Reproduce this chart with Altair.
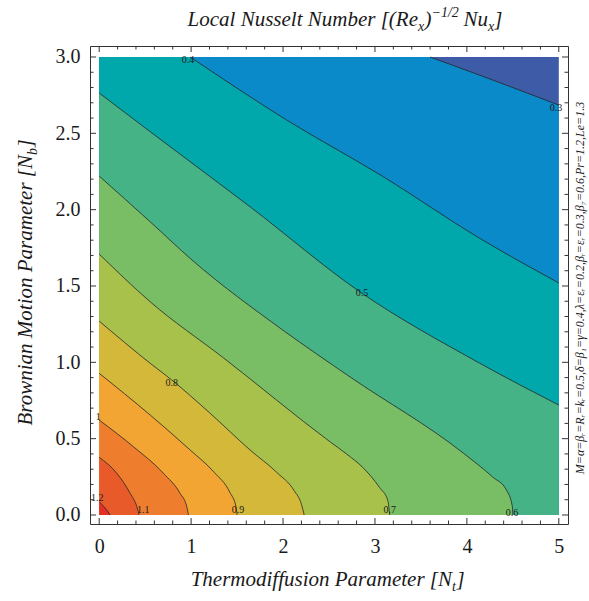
import altair as alt
import pandas as pd

# ---------------- data ----------------
NT_RANGE = [0.0, 5.0]   # Thermodiffusion parameter Nt
NB_RANGE = [0.0, 3.0]   # Brownian motion parameter Nb

LEVELS = [0.3, 0.4, 0.5, 0.6, 0.7, 0.8, 0.9, 1.0, 1.1, 1.2]

C03_X = [3.60, 4.30, 5.00]
C03_Y = [3.00, 2.845, 2.685]
C04_X = [0.99, 2.04, 3.09, 4.14, 5.00]
C04_Y = [3.00, 2.587, 2.216, 1.812, 1.52]
C05_X = [0.00, 0.554, 1.641, 2.84, 4.14, 5.00]
C05_Y = [2.764, 2.511, 2.019, 1.46, 0.994, 0.72]
C06_X = [0.00, 0.554, 1.01, 2.00, 2.73, 3.96, 4.28, 4.43, 4.495, 4.50]
C06_Y = [2.22, 1.921, 1.67, 1.21, 0.904, 0.406, 0.249, 0.164, 0.054, 0.0]
C07_X = [0.00, 0.554, 1.35, 2.51, 2.69, 2.87, 3.05, 3.14, 3.16]
C07_Y = [1.709, 1.397, 1.03, 0.48, 0.40, 0.31, 0.18, 0.095, 0.0]
C08_X = [0.00, 0.554, 0.79, 1.20, 1.641, 1.93, 2.12, 2.20, 2.23]
C08_Y = [1.27, 0.994, 0.884, 0.67, 0.426, 0.28, 0.16, 0.07, 0.0]
C09_X = [0.00, 0.554, 0.989, 1.25, 1.42, 1.49, 1.50]
C09_Y = [0.928, 0.655, 0.426, 0.28, 0.15, 0.05, 0.0]
C10_X = [0.00, 0.373, 0.699, 0.880, 0.953, 0.971]
C10_Y = [0.622, 0.447, 0.273, 0.142, 0.054, 0.0]
C11_X = [0.00, 0.192, 0.337, 0.41, 0.435]
C11_Y = [0.378, 0.273, 0.142, 0.054, 0.0]
C12_X = [0.00, 0.065, 0.12]
C12_Y = [0.087, 0.045, 0.0]

CONTOURS_X = [C03_X, C04_X, C05_X, C06_X, C07_X, C08_X, C09_X, C10_X, C11_X, C12_X]
CONTOURS_Y = [C03_Y, C04_Y, C05_Y, C06_Y, C07_Y, C08_Y, C09_Y, C10_Y, C11_Y, C12_Y]

COLOR_BELOW = "#3D5BA7"
COLORS_ABOVE = ["#0A8AC8", "#00A7AB", "#45B386", "#79BE64", "#A8C14B",
                "#D4B83A", "#F3A534", "#EE7E2E", "#E95A2A", "#E42F27"]

LABEL_TEXT = ["0.4", "0.3", "0.5", "0.6", "0.7", "0.8", "0.9", "1", "1.1", "1.2"]
LABEL_X = [0.967, 4.97, 2.86, 4.49, 3.16, 0.79, 1.51, -0.01, 0.478, -0.02]
LABEL_Y = [2.98, 2.666, 1.454, 0.013, 0.033, 0.865, 0.033, 0.642, 0.033, 0.111]

X_MAJOR = [0, 1, 2, 3, 4, 5]
X_MINOR = [0.2, 0.4, 0.6, 0.8, 1.2, 1.4, 1.6, 1.8, 2.2, 2.4, 2.6, 2.8,
           3.2, 3.4, 3.6, 3.8, 4.2, 4.4, 4.6, 4.8]
Y_MAJOR = [0.0, 0.5, 1.0, 1.5, 2.0, 2.5, 3.0]
Y_MINOR = [0.1, 0.2, 0.3, 0.4, 0.6, 0.7, 0.8, 0.9, 1.1, 1.2, 1.3, 1.4,
           1.6, 1.7, 1.8, 1.9, 2.1, 2.2, 2.3, 2.4, 2.6, 2.7, 2.8, 2.9]

TITLE_PARTS = ["Local Nusselt Number [(Re", "x", ")", "\u22121/2", "Nu", "x", "]"]
XTITLE_PARTS = ["Thermodiffusion Parameter [N", "t", "]"]
YTITLE_PARTS = ["Brownian Motion Parameter [N", "b", "]"]
SIDE_NOTE = ("M=\u03b1=\u03b2\u1d63=R\u1d63=k\u1d63=0.5,\u03b4=\u03b2\u2081=\u03b3=0.4,"
             "\u03bb=\u03b5\u1d63=0.2,\u03b2\u1d63=\u03b5\u1d63=0.3,\u03b2\u2087=0.6,Pr=1.2,Le=1.3")

# ---------------- layout / style ----------------
W, H = 478, 478
SERIF = "Liberation Serif"
FRAME = "#333333"
TEXTC = "#1a1a1a"
INTERP = "monotone"
SEAM_OVERLAP = 0.012   # tiny overlap (data units) that hides anti-aliasing seams

xs = alt.Scale(domain=[-0.1, 5.1], nice=False, zero=False)
ys = alt.Scale(domain=[-0.059, 3.072], nice=False, zero=False)
x_axis = alt.Axis(values=X_MAJOR, format="d", ticks=False, domain=False, grid=False,
                  labelFont=SERIF, labelFontSize=20, labelColor=TEXTC, labelPadding=12,
                  labelFlush=False, title=None)
y_axis = alt.Axis(values=Y_MAJOR, format=".1f", ticks=False, domain=False, grid=False,
                  labelFont=SERIF, labelFontSize=20, labelColor=TEXTC, labelPadding=10,
                  labelFlush=False, title=None)


def X(f):
    return alt.X(f, type="quantitative", scale=xs, axis=x_axis)


def Y(f):
    return alt.Y(f, type="quantitative", scale=ys, axis=y_axis)


def rect_layer(x0, x1, y0, y1, col):
    df = pd.DataFrame({"x": [x0], "x2": [x1], "y": [y0], "y2": [y1]})
    return alt.Chart(df).mark_rect(color=col).encode(
        x=X("x"), x2="x2:Q", y=Y("y"), y2="y2:Q")


layers = [rect_layer(NT_RANGE[0], NT_RANGE[1], NB_RANGE[0], NB_RANGE[1], COLOR_BELOW)]

for lev, cx, cy, col in zip(LEVELS, CONTOURS_X, CONTOURS_Y, COLORS_ABOVE):
    if cy[0] >= NB_RANGE[1] and cx[0] > NT_RANGE[0]:
        # contour enters through the top edge: everything left of it is above the level
        layers.append(rect_layer(NT_RANGE[0], cx[0] + SEAM_OVERLAP, NB_RANGE[0], NB_RANGE[1], col))
    df = pd.DataFrame({"x": cx, "y": cy, "y0": [NB_RANGE[0]] * len(cx)})
    layers.append(alt.Chart(df).mark_area(color=col, opacity=1, orient="vertical",
                                          interpolate=INTERP).encode(
        x=X("x"), y=Y("y"), y2=alt.Y2("y0")))

for lev, cx, cy in zip(LEVELS, CONTOURS_X, CONTOURS_Y):
    df = pd.DataFrame({"x": cx, "y": cy, "i": list(range(len(cx)))})
    layers.append(alt.Chart(df).mark_line(color="#262626", strokeWidth=0.9, opacity=0.9,
                                          interpolate=INTERP).encode(
        x=X("x"), y=Y("y"), order=alt.Order("i:Q")))

lab = pd.DataFrame({"x": LABEL_X, "y": LABEL_Y, "t": LABEL_TEXT})
layers.append(alt.Chart(lab).mark_text(font=SERIF, fontSize=10, color=TEXTC).encode(
    x=X("x"), y=Y("y"), text="t:N"))


# frame ticks (pointing inward on all four sides)
def xticks(vals, length):
    df = pd.DataFrame({"x": vals})
    bottom = alt.Chart(df).mark_rule(color=FRAME, strokeWidth=1).encode(
        x=X("x"), y=alt.value(H), y2=alt.value(H - length))
    top = alt.Chart(df).mark_rule(color=FRAME, strokeWidth=1).encode(
        x=X("x"), y=alt.value(0), y2=alt.value(length))
    return [bottom, top]


def yticks(vals, length):
    df = pd.DataFrame({"y": vals})
    left = alt.Chart(df).mark_rule(color=FRAME, strokeWidth=1).encode(
        y=Y("y"), x=alt.value(0), x2=alt.value(length))
    right = alt.Chart(df).mark_rule(color=FRAME, strokeWidth=1).encode(
        y=Y("y"), x=alt.value(W), x2=alt.value(W - length))
    return [left, right]


layers += xticks(X_MAJOR, 6) + xticks(X_MINOR, 3.5) + yticks(Y_MAJOR, 6) + yticks(Y_MINOR, 3.5)


def piece(s, x, y, size, align, dx=0, dy=0, angle=0):
    return alt.Chart(pd.DataFrame({"t": [s]})).mark_text(
        font=SERIF, fontStyle="italic", fontSize=size, color=TEXTC, align=align,
        baseline="alphabetic", dx=dx, dy=dy, angle=angle).encode(
        text="t:N", x=alt.value(x), y=alt.value(y))


# top title
TX, TY = 328, -20
layers += [
    piece(TITLE_PARTS[0], TX, TY, 21, "right"),
    piece(TITLE_PARTS[1], TX, TY, 14, "left", dx=0, dy=5),
    piece(TITLE_PARTS[2], TX, TY, 21, "left", dx=6.5),
    piece(TITLE_PARTS[3], TX, TY, 14, "left", dx=13.5, dy=-9),
    piece(TITLE_PARTS[4], TX, TY, 21, "left", dx=45.5),
    piece(TITLE_PARTS[5], TX, TY, 14, "left", dx=70.0, dy=5),
    piece(TITLE_PARTS[6], TX, TY, 21, "left", dx=76.3),
]
# x title
XX, XY = 362, 540
layers += [
    piece(XTITLE_PARTS[0], XX, XY, 21, "right"),
    piece(XTITLE_PARTS[1], XX, XY, 14, "left", dy=5),
    piece(XTITLE_PARTS[2], XX, XY, 21, "left", dx=4.5),
]
# y title (rotated)
YX, YY = -58, 109
layers += [
    piece(YTITLE_PARTS[0], YX, YY, 21, "right", angle=270),
    piece(YTITLE_PARTS[1], YX, YY, 14, "left", dy=5, angle=270),
    piece(YTITLE_PARTS[2], YX, YY, 21, "left", dx=7.5, angle=270),
]
# side note
layers.append(piece(SIDE_NOTE, 494, 242, 12, "center", angle=270))

chart = alt.layer(*layers).properties(
    width=W, height=H,
    autosize=alt.AutoSizeParams(type="none"),
    padding={"left": 90, "top": 46, "right": 21, "bottom": 77},
    background="white",
).configure_view(stroke=FRAME, strokeWidth=1)

chart.save("out.html", embed_options={"renderer": "svg", "actions": False})
